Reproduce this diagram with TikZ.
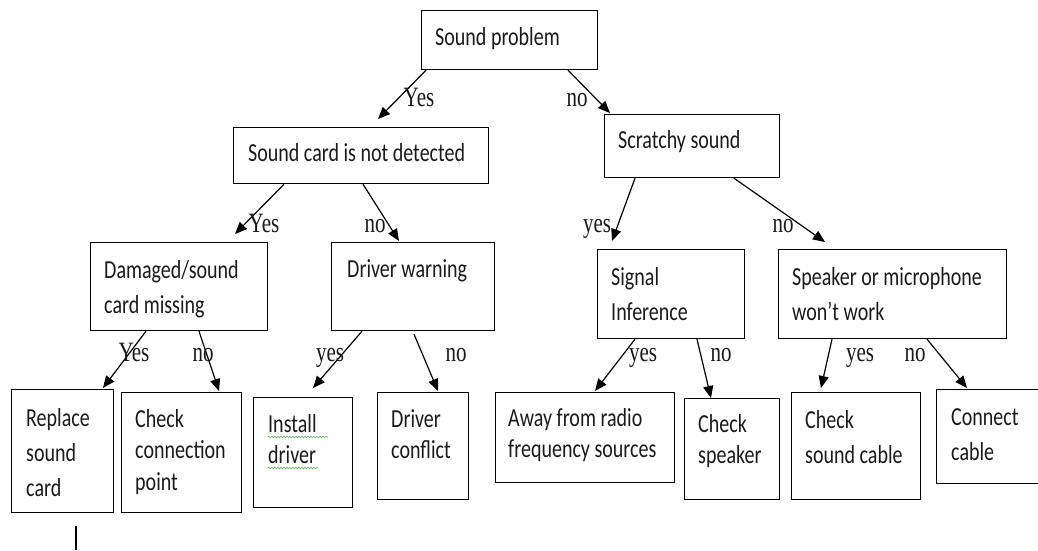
\documentclass[tikz,border=0pt]{standalone}
\usepackage{fontspec}
\usepackage{tikz}
\usetikzlibrary{arrows.meta,decorations.pathmorphing}
\newfontfamily\boxfont[FakeStretch=0.77]{Carlito}
\newfontfamily\lblfont[FakeStretch=0.75]{Liberation Serif}
\definecolor{InkGray}{HTML}{1A1A1A}
\definecolor{SpellGreen}{HTML}{5CB85C}

\begin{document}
\begin{tikzpicture}[
  x=1pt, y=-1pt,
  box/.style={draw=black, line width=1.2pt, anchor=north west, inner sep=0pt},
  txt/.style={anchor=base west, align=left, inner sep=0pt, text=InkGray,
    font=\boxfont\fontsize{26}{35}\selectfont},
  tighttxt/.style={txt, font=\boxfont\fontsize{26}{31}\selectfont},
  lbl/.style={anchor=base, inner sep=0pt, text=InkGray,
    font=\lblfont\fontsize{28}{30}\selectfont},
  flow/.style={-{Triangle[length=12pt,width=10pt]}, line width=1.2pt},
  spell/.style={draw=SpellGreen, line width=0.6pt,
    decorate, decoration={snake, amplitude=0.8pt, segment length=3pt}}
]
\useasboundingbox (0,0) rectangle (1038,550);
\clip (0,0) rectangle (1038,550);

% top level (text anchored at the baseline of its last line)
\node[box, minimum width=176pt, minimum height=59pt] (prob) at (421,10) {};
\node[txt] (probt) at ([shift={(14,35)}]prob.north west) {Sound problem};

% second level
\node[box, minimum width=255pt, minimum height=56pt] (card) at (233,127) {};
\node[txt] (cardt) at ([shift={(15,34)}]card.north west) {Sound card is not detected};
\node[box, minimum width=175pt, minimum height=63pt] (scratch) at (604,114) {};
\node[txt] (scratcht) at ([shift={(14,34)}]scratch.north west) {Scratchy sound};

% third level
\node[box, minimum width=177pt, minimum height=88pt] (damaged) at (90,242) {};
\node[txt] (damagedt) at ([shift={(14,71)}]damaged.north west) {Damaged/sound\\card missing};
\node[box, minimum width=163pt, minimum height=88pt] (warn) at (331,242) {};
\node[txt] (warnt) at ([shift={(16,35)}]warn.north west) {Driver warning};
\node[box, minimum width=147pt, minimum height=89pt] (signal) at (597,249) {};
\node[txt] (signalt) at ([shift={(14,71)}]signal.north west) {Signal\\Inference};
\node[box, minimum width=228pt, minimum height=89pt] (mic) at (778,249) {};
\node[txt] (mict) at ([shift={(14,71)}]mic.north west) {Speaker or microphone\\won’t work};

% leaves
\node[box, minimum width=102pt, minimum height=123pt] (replace) at (11,389) {};
\node[txt] (replacet) at ([shift={(15,107)}]replace.north west) {Replace\\sound\\card};
\node[box, minimum width=120pt, minimum height=120pt] (conn) at (121,392) {};
\node[tighttxt, font=\boxfont\fontsize{26}{31.5}\selectfont] (connt) at ([shift={(14,98)}]conn.north west) {Check\\connection\\point};
\node[box, minimum width=99pt, minimum height=110pt] (install) at (253,397) {};
\node[tighttxt] (installt) at ([shift={(15,66)}]install.north west) {Install\\driver};
\node[box, minimum width=91pt, minimum height=107pt] (conflict) at (377,392) {};
\node[tighttxt] (conflictt) at ([shift={(14,66)}]conflict.north west) {Driver\\conflict};
\node[box, minimum width=179pt, minimum height=90pt] (away) at (495,392) {};
\node[tighttxt] (awayt) at ([shift={(13,65)}]away.north west) {Away from radio\\frequency sources};
\node[box, minimum width=95pt, minimum height=101pt] (spk) at (684,398) {};
\node[tighttxt] (spkt) at ([shift={(14,65)}]spk.north west) {Check\\speaker};
\node[box, minimum width=129pt, minimum height=107pt] (cable) at (791,392) {};
\node[txt] (cablet) at ([shift={(14,71)}]cable.north west) {Check\\sound cable};
\node[box, minimum width=120pt, minimum height=94pt] (connect) at (936,389) {};
\node[txt] (connectt) at ([shift={(15,71)}]connect.north west) {Connect\\cable};

% spell check marks
\draw[spell] (268,437) -- (328,437);
\draw[spell] (268,468) -- (318,468);

% connectors
\draw[flow] ([shift={(5,0)}]prob.south west) -- ([shift={(145,-8)}]card.north west);
\draw[flow] ([shift={(147,0)}]prob.south west) -- ([shift={(6,-1)}]scratch.north west);
\draw[flow] ([shift={(51,0)}]card.south west) -- ([shift={(145,-8)}]damaged.north west);
\draw[flow] ([shift={(130,0)}]card.south west) -- ([shift={(68,-1)}]warn.north west);
\draw[flow] ([shift={(31,0)}]scratch.south west) -- ([shift={(15,-8)}]signal.north west);
\draw[flow] ([shift={(130,0)}]scratch.south west) -- ([shift={(47,-7)}]mic.north west);
\draw[flow] ([shift={(56,0)}]damaged.south west) -- ([shift={(92,-1)}]replace.north west);
\draw[flow] ([shift={(109,0)}]damaged.south west) -- ([shift={(98,-1)}]conn.north west);
\draw[flow] ([shift={(31,0)}]warn.south west) -- ([shift={(60,-9)}]install.north west);
\draw[flow] ([shift={(83,3)}]warn.south west) -- ([shift={(61,-1)}]conflict.north west);
\draw[flow] ([shift={(38,0)}]signal.south west) -- ([shift={(100,-1)}]away.north west);
\draw[flow] ([shift={(100,0)}]signal.south west) -- ([shift={(27,0)}]spk.north west);
\draw[flow] ([shift={(54,0)}]mic.south west) -- ([shift={(30,-4)}]cable.north west);
\draw[flow] ([shift={(149,0)}]mic.south west) -- ([shift={(31,-1)}]connect.north west);

% branch labels
\node[lbl] (yes1) at (419,106) {Yes};
\node[lbl] (no1) at (577,106) {no};
\node[lbl] (yes2) at (264,232) {Yes};
\node[lbl] (no2) at (375,232) {no};
\node[lbl] (yes3) at (597,232) {yes};
\node[lbl] (no3) at (783,232) {no};
\node[lbl] (yes4) at (134,361) {Yes};
\node[lbl] (no4) at (203,361) {no};
\node[lbl] (yes5) at (330,361) {yes};
\node[lbl] (no5) at (456,361) {no};
\node[lbl] (yes6) at (643,361) {yes};
\node[lbl] (no6) at (721,361) {no};
\node[lbl] (yes7) at (860,361) {yes};
\node[lbl] (no7) at (915,361) {no};

% cursor mark
\draw[line width=1.6pt] (76,526) -- (76,550);
\end{tikzpicture}
\end{document}
